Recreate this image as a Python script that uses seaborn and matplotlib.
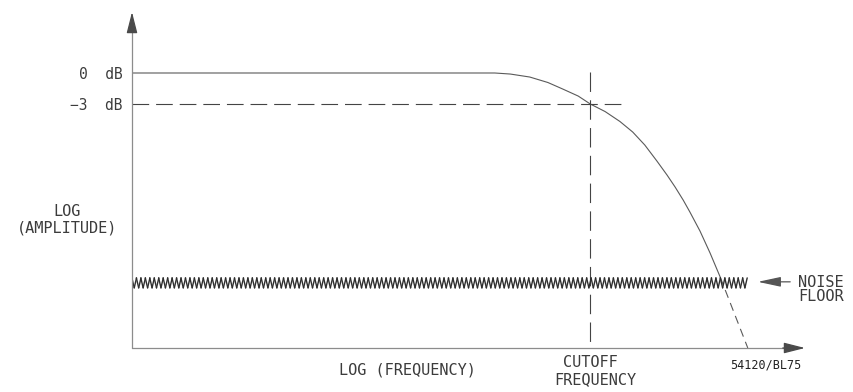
import matplotlib
matplotlib.use('Agg')
import matplotlib.pyplot as plt
import matplotlib.patheffects as pe
import seaborn as sns

# frequency response (x = log frequency units, y = dB)
resp_x = [0.0, 5.39, 5.62, 5.91, 6.18, 6.40, 6.63, 6.81, 7.03, 7.25, 7.44,
          7.62, 7.80, 7.95, 8.07, 8.19, 8.29, 8.44, 8.59, 8.74]
resp_db = [0.0, 0.0, -0.10, -0.39, -0.92, -1.55, -2.23, -3.0, -3.73, -4.69, -5.71,
           -6.97, -8.52, -9.87, -11.03, -12.29, -13.45, -15.29, -17.42, -19.74]
# part of the roll-off below the noise floor (dashed)
tail_x = [8.74, 9.15]
tail_db = [-19.74, -26.6]

cutoff_x = 6.81
cutoff_db = -3.0
noise_db = -20.3
noise_span = [0.0, 9.14]

ytick_vals = [0, -3]
ytick_labels = ['0  dB', '\u22123  dB']

x_max = 10.0
y_min, y_max = -26.6, 5.9

sns.set_style('white')
plt.rcParams['font.family'] = ['DejaVu Sans Mono', 'DejaVu Sans']
plt.rcParams['lines.scale_dashes'] = False

fig = plt.figure(figsize=(8.54, 3.92), dpi=100)
ax = fig.add_axes([132 / 854, 44 / 392, 673 / 854, 336 / 392])
ax.set_xlim(0, x_max)
ax.set_ylim(y_min, y_max)
for s in ax.spines.values():
    s.set_visible(False)

line_col = '#5a5a5a'
axis_col = '#8c8c8c'
head_col = '#4a4a4a'
txt_col = '#3c3c3c'

# response curve
sns.lineplot(x=resp_x, y=resp_db, ax=ax, sort=False, color=line_col, linewidth=0.8)
ax.plot(tail_x, tail_db, color=line_col, linewidth=0.8, dashes=(6, 4))

# -3 dB and cutoff markers
ax.plot([0, cutoff_x + 0.47], [cutoff_db, cutoff_db], color='#444444', linewidth=0.8, dashes=(12, 5))
ax.plot([cutoff_x, cutoff_x], [0.1, y_min], color='#444444', linewidth=0.8, dashes=(14, 6))

# noise floor as a zigzag band
zig = dict(spacing=3.2, length=2.3, linewidth=1.0, foreground='#2e2e2e')
ax.plot(noise_span, [noise_db, noise_db], color='none',
        path_effects=[pe.TickedStroke(offset=(0, -3.6), angle=77, **zig),
                      pe.TickedStroke(offset=(0, -3.6), angle=103, **zig)])

# axes: light lines with dark arrow heads
ax.plot([0, 0], [y_min, y_max - 1.5], color=axis_col, linewidth=0.9, clip_on=False)
ax.plot([0, x_max - 0.2], [y_min, y_min], color=axis_col, linewidth=0.9, clip_on=False)
head = dict(arrowstyle='-|>,head_length=13,head_width=3.3', mutation_scale=1,
            color=head_col, linewidth=0.9, shrinkA=0, shrinkB=0)
ax.annotate('', xy=(0, y_max), xytext=(0, y_max - 1.9), arrowprops=head)
ax.annotate('', xy=(x_max, y_min), xytext=(x_max - 0.33, y_min), arrowprops=head)
# noise floor pointer
ax.annotate('', xy=(9.30, noise_db + 0.1), xytext=(9.78, noise_db + 0.1),
            arrowprops=dict(arrowstyle='-|>,head_length=14,head_width=3', mutation_scale=1,
                            color='#555555', linewidth=0.9, shrinkA=0, shrinkB=0))

ax.set_yticks(ytick_vals)
ax.set_yticklabels(ytick_labels)
ax.set_xticks([])
ax.tick_params(axis='y', length=0, pad=7, labelsize=10.5, labelcolor=txt_col)

fs = 11
ax.text(-0.97, -13.4, 'LOG', ha='center', va='center', fontsize=fs, color=txt_col)
ax.text(-0.97, -14.95, '(AMPLITUDE)', ha='center', va='center', fontsize=fs, color=txt_col)
ax.text(4.09, y_min - 2.1, 'LOG (FREQUENCY)', ha='center', va='center', fontsize=fs, color=txt_col)
ax.text(cutoff_x, y_min - 1.45, 'CUTOFF', ha='center', va='center', fontsize=fs, color=txt_col)
ax.text(cutoff_x + 0.07, y_min - 3.1, 'FREQUENCY', ha='center', va='center', fontsize=fs, color=txt_col)
ax.text(9.42, y_min - 1.6, '54120/BL75', ha='center', va='center', fontsize=8.5, color='#222222')
ax.text(9.90, noise_db, 'NOISE', ha='left', va='center', fontsize=fs, color=txt_col)
ax.text(9.90, noise_db - 1.35, 'FLOOR', ha='left', va='center', fontsize=fs, color=txt_col)

fig.savefig('out.png', dpi=100, facecolor='white')
